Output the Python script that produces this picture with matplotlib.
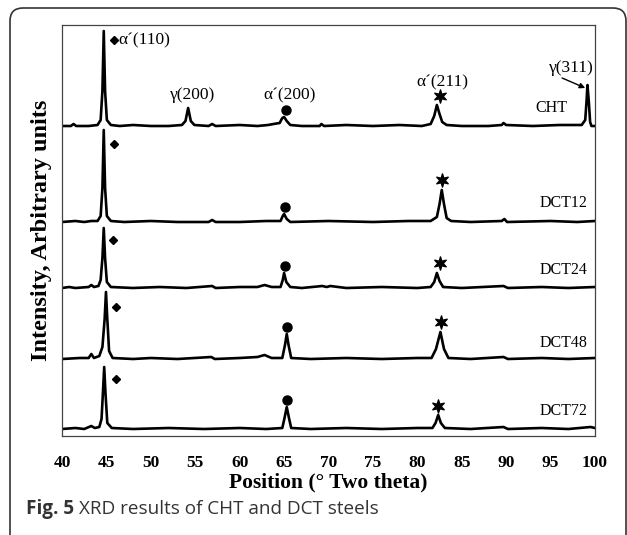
import matplotlib.pyplot as plt
import numpy as np
from matplotlib.patches import FancyBboxPatch
from matplotlib.path import Path

# XRD traces: (2theta, intensity above own baseline)
cht = [(40.0, 0), (41.0, 0), (41.3, 2), (41.6, 0), (43.0, 0), (44.0, 1), (44.35, 6), (44.55, 35),
       (44.7, 95), (44.85, 35), (45.05, 6), (45.5, 1), (46.5, 0), (48.0, 1), (50.0, 0), (52.0, 0),
       (53.5, 1), (53.9, 5), (54.2, 18), (54.5, 5), (54.9, 1), (56.5, 0), (56.9, 2), (57.3, 0),
       (60.0, 1), (62.0, 0), (63.2, 1), (63.8, 2), (64.5, 3), (64.8, 8), (65.0, 9), (65.3, 5),
       (65.7, 1), (67.0, 0), (69.0, 0), (69.2, 2), (69.5, 0), (72.0, 1), (75.0, 0), (78.0, 1),
       (80.5, 0), (81.5, 2), (81.9, 10), (82.2, 21), (82.5, 12), (82.8, 4), (83.3, 1), (85.0, 0),
       (88.0, 0), (89.5, 1), (89.7, 3), (90.0, 1), (93.0, 0), (96.0, 1), (98.5, 1), (98.9, 6),
       (99.05, 25), (99.15, 41), (99.3, 25), (99.45, 4), (99.6, 0), (100.0, 0)]
dct12 = [(40.0, 0), (41.5, 1), (42.5, 0), (43.3, 1), (44.0, 1), (44.35, 6), (44.55, 34), (44.7, 92),
         (44.85, 34), (45.05, 6), (45.5, 1), (47.0, 0), (50.0, 1), (53.0, 0), (56.5, 0), (56.9, 2),
         (57.3, 0), (60.0, 0), (63.0, 1), (64.6, 1), (64.85, 6), (65.0, 8), (65.3, 3), (65.7, 0),
         (70.0, 1), (75.0, 0), (79.0, 1), (81.5, 1), (82.2, 5), (82.5, 18), (82.75, 32), (83.0, 18),
         (83.3, 4), (83.8, 1), (86.0, 0), (89.5, 1), (89.8, 3), (90.1, 0), (95.0, 1), (98.0, 0),
         (100.0, 1)]
dct24 = [(40.0, 0), (40.8, 1), (41.5, 0), (43.0, 1), (43.3, 3), (43.6, 1), (44.1, 2), (44.35, 8),
         (44.55, 30), (44.7, 60), (44.85, 30), (45.05, 6), (45.5, 1), (48.0, 0), (51.0, 1), (54.0, 0),
         (56.9, 2), (57.3, 0), (60.0, 1), (62.0, 1), (62.8, 3), (63.6, 1), (64.6, 1), (64.85, 8),
         (65.0, 15), (65.25, 6), (65.7, 1), (67.0, 0), (69.3, 2), (69.8, 1), (70.2, 2), (72.0, 0),
         (76.0, 1), (80.0, 0), (81.5, 1), (81.9, 6), (82.2, 15), (82.5, 7), (82.9, 1), (85.0, 0),
         (89.7, 2), (90.2, 0), (94.0, 1), (97.0, 0), (100.0, 1)]
dct48 = [(40.0, 0), (42.0, 1), (43.0, 1), (43.3, 5), (43.6, 1), (44.2, 3), (44.55, 12), (44.8, 40),
         (44.95, 67), (45.1, 40), (45.3, 8), (45.7, 1), (48.0, 0), (50.0, 1), (53.0, 0), (56.8, 2),
         (57.2, 0), (60.0, 1), (62.0, 2), (62.8, 4), (63.6, 1), (64.8, 1), (65.1, 14), (65.3, 25),
         (65.5, 14), (65.8, 1), (68.0, 0), (72.0, 1), (76.0, 0), (80.0, 1), (81.6, 1), (82.1, 10),
         (82.6, 27), (83.0, 10), (83.5, 1), (86.0, 0), (89.7, 2), (90.2, 0), (94.0, 1), (97.0, 0),
         (100.0, 1)]
dct72 = [(40.0, 0), (41.5, 1), (42.5, 0), (43.3, 3), (43.7, 1), (44.2, 2), (44.45, 10), (44.6, 35),
         (44.75, 62), (44.9, 35), (45.1, 6), (45.6, 1), (48.0, 0), (52.0, 1), (56.0, 0), (60.0, 1),
         (63.0, 0), (64.8, 1), (65.05, 11), (65.3, 22), (65.55, 11), (65.8, 1), (68.0, 0), (72.0, 1),
         (76.0, 0), (80.0, 1), (81.7, 1), (82.05, 6), (82.35, 14), (82.65, 6), (83.1, 1), (86.0, 0),
         (89.7, 2), (90.2, 0), (94.0, 1), (97.0, 0), (99.5, 2), (100.0, 1)]

traces = [cht, dct12, dct24, dct48, dct72]
names = ["CHT", "DCT12", "DCT24", "DCT48", "DCT72"]
offsets = [310, 214, 148, 77, 7]  # stacking offset of each pattern
name_x = [96.85, 99.2, 99.2, 99.2, 99.2]
name_h = [18, 19, 18, 16, 18]

# phase markers: diamond = a'(110), dot = a'(200), star = a'(211)
diamond_x = [45.85, 45.85, 45.74, 46.08, 46.08]
diamond_h = [86, 78, 48, 52, 50]
dot_x = [65.2, 65.1, 65.1, 65.33, 65.33]
dot_h = [16, 15, 22, 32, 29]
star_x = [82.55, 82.78, 82.55, 82.67, 82.33]
star_h = [30, 42, 25, 37, 23]

# peak labels on the CHT pattern
peak_labels = ["γ(200)", "α´(200)", "α´(211)"]
peak_label_x = [54.75, 65.67, 82.78]
peak_label_h = [31, 31, 44]

serif = "Liberation Serif"

# six-pointed star marker with thin arms
ang = np.pi / 2 + np.arange(12) * np.pi / 6
rad = np.where(np.arange(12) % 2 == 0, 1.0, 0.4)
star_verts = np.column_stack([rad * np.cos(ang), rad * np.sin(ang)])
star_marker = Path(np.vstack([star_verts, star_verts[:1]]), closed=True)

fig = plt.figure(figsize=(6.27, 5.35), dpi=100)
ax = fig.add_axes([62 / 627, 99 / 535, 533 / 627, 411 / 535])

for tr, off, nm, nx, nh in zip(traces, offsets, names, name_x, name_h):
    xs, ys = zip(*tr)
    ax.plot(xs, [y + off for y in ys], color="black", lw=1.9, solid_joinstyle="round")
    ax.text(nx, off + nh, nm, ha="right", va="center", family=serif, fontsize=11.5)

ax.plot(diamond_x, [h + o for h, o in zip(diamond_h, offsets)], "D", color="black", ms=4.5, ls="none")
ax.plot(dot_x, [h + o for h, o in zip(dot_h, offsets)], "o", color="black", ms=6.5, ls="none")
ax.plot(star_x, [h + o for h, o in zip(star_h, offsets)], marker=star_marker, color="black",
        ms=9.5, ls="none")

ax.text(46.3, offsets[0] + 86, "α´(110)", ha="left", va="center", family=serif, fontsize=12.5)
for lab, lx, lh in zip(peak_labels, peak_label_x, peak_label_h):
    ax.text(lx, offsets[0] + lh, lab, ha="center", va="center", family=serif, fontsize=12.5)
ax.text(97.3, offsets[0] + 58, "γ(311)", ha="center", va="center", family=serif, fontsize=12.5)
ax.annotate("", xy=(98.9, offsets[0] + 38), xytext=(96.3, offsets[0] + 48),
            arrowprops=dict(arrowstyle="-|>", color="black", lw=1.0, mutation_scale=8,
                            shrinkA=0, shrinkB=0))

ax.set_xlim(40, 100)
ax.set_ylim(0, 411)
ax.set_xticks(range(40, 101, 5))
ax.set_yticks([])
ax.tick_params(axis="x", length=0, pad=14)
for lab in ax.get_xticklabels():
    lab.set_family(serif)
    lab.set_fontweight("bold")
    lab.set_fontsize(12.5)
for sp in ax.spines.values():
    sp.set_color("#444444")
    sp.set_linewidth(0.9)

ax.set_xlabel("Position (° Two theta)", family=serif, fontweight="bold", fontsize=15.5)
ax.xaxis.set_label_coords(0.5, -46 / 411)
ax.xaxis.label.set_va("center")
ax.set_ylabel("Intensity, Arbitrary units", family=serif, fontweight="bold", fontsize=17.5)
ax.yaxis.set_label_coords(-20 / 533, 0.5)
ax.yaxis.label.set_va("center")

# rounded outer frame, open at the bottom
frame = FancyBboxPatch((0.10, -0.5), 6.16, 5.77, boxstyle="round,pad=0,rounding_size=0.13",
                       transform=fig.dpi_scale_trans, fill=False, edgecolor="#333333", lw=1.2)
fig.patches.append(frame)

# caption
cap1 = fig.text(26 / 627, 1 - 509 / 535, "Fig. 5", family="Open Sans", fontweight="bold",
                fontsize=13.6, color="#333333", va="center")
r = fig.canvas.get_renderer()
bb = cap1.get_window_extent(r)
fig.text(bb.x1 / 627 + 0.008, 1 - 509 / 535, "XRD results of CHT and DCT steels", family="Open Sans",
         fontsize=13.6, color="#333333", va="center")

fig.savefig("out.png", dpi=100)
